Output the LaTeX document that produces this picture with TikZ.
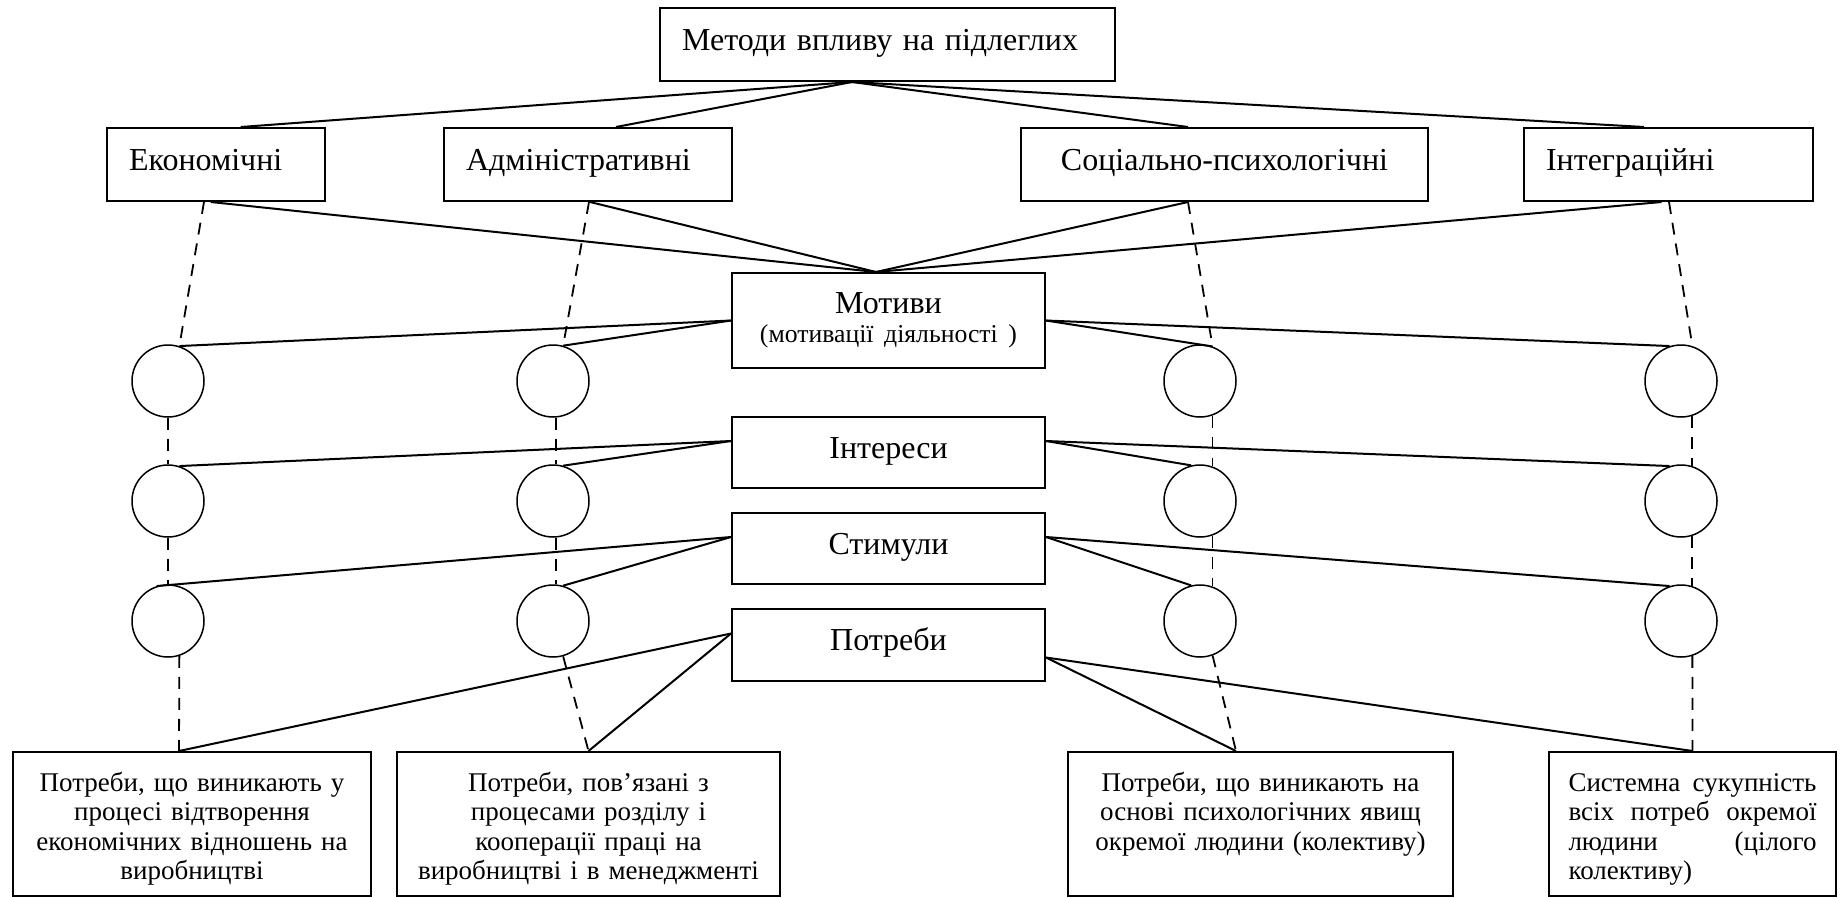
\documentclass[tikz,border=0pt]{standalone}
\usepackage{fontspec}
\setmainfont{Liberation Serif}
\begin{document}
\begin{tikzpicture}[x=1pt,y=-1pt,
  box/.style={draw, line width=2pt, inner sep=0pt, minimum height=73pt,
    font=\fontsize{32}{34}\selectfont, text height=22pt, text depth=10pt},
  leftbox/.style={box, align=left, inner xsep=22pt, text width=#1},
  btm/.style={draw, line width=2pt, inner sep=0pt, minimum height=144pt,
    font=\fontsize{27}{29.5}\selectfont, align=center, text height=20pt, text depth=86pt},
  circ/.style={circle, draw, line width=1.5pt, minimum size=72pt, inner sep=0pt},
  conn/.style={line width=2pt},
  dline/.style={line width=1.8pt, dash pattern=on 12pt off 9pt}]
\useasboundingbox (0,0) rectangle (1843,897);

% upper level: methods
\node[leftbox=411pt] (top) at (887.5,44.5) {Методи впливу на підлеглих};
\node[leftbox=173.5pt] (eco) at (215.75,164.5) {Економічні};
\node[leftbox=244pt] (adm) at (588,164.5) {Адміністративні};
\node[box, minimum width=407pt] (soc) at (1224.5,164.5) {Соціально-психологічні};
\node[leftbox=245pt] (integ) at (1668.5,164.5) {Інтеграційні};

% central column
\node[box, minimum width=313pt, minimum height=95pt, align=center, text width=300pt,
  text height=22pt, text depth=37pt]
  (mot) at (888.5,320.5) {Мотиви\\[-5pt]\mbox{\fontsize{25.7}{34}\selectfont(мотивації діяльності )}};
\node[box, minimum width=313pt, minimum height=71pt] (inte) at (888.5,452.5) {Інтереси};
\node[box, minimum width=313pt, minimum height=71pt] (stim) at (888.5,548.5) {Стимули};
\node[box, minimum width=313pt, minimum height=72pt] (potr) at (888.5,644.5) {Потреби};

% circles
\foreach \c/\x in {e/168, a/553, s/1200, i/1681}{
  \node[circ] (\c1) at (\x,381) {};
  \node[circ] (\c2) at (\x,501) {};
  \node[circ] (\c3) at (\x,621) {};
}

% bottom boxes
\node[btm, minimum width=358pt, text width=340pt] (b1) at (192,824)
  {Потреби, що виникають у\\процесі відтворення\\економічних відношень на\\виробництві};
\node[btm, minimum width=383pt, text width=365pt] (b2) at (588.5,824)
  {Потреби, пов’язані з\\процесами розділу і\\кооперації праці на\\виробництві і в менеджменті};
\node[btm, minimum width=385pt, text width=367pt] (b3) at (1260.5,824)
  {Потреби, що виникають на\\основі психологічних явищ\\окремої людини (колективу)};
\node[btm, align=left, inner xsep=19.5pt, text width=248pt] (b4) at (1692.5,824)
  {Системна\hfill сукупність\\всіх\hfill потреб\hfill окремої\\людини\hfill (цілого\\колективу)};

% top links
\coordinate (tj) at ([xshift=-35.5pt]top.south);
\draw[conn] (tj) -- ([xshift=25pt]eco.north);
\draw[conn] (tj) -- ([xshift=28pt]adm.north);
\draw[conn] (tj) -- ([xshift=-36.5pt]soc.north);
\draw[conn] (tj) -- ([xshift=-24.5pt]integ.north);

% methods to motives
\coordinate (mj) at ([xshift=-12.5pt]mot.north);
\draw[conn] ([xshift=-5pt]eco.south) -- (mj);
\draw[conn] ([xshift=2pt]adm.south) -- (mj);
\draw[conn] ([xshift=-36.5pt]soc.south) -- (mj);
\draw[conn] ([xshift=-7pt]integ.south) -- (mj);

% dashed columns
\draw[dline] ([xshift=-11.75pt]eco.south) -- (e1.72);
\draw[dline] (e1.south) -- (e2.north);
\draw[dline] (e2.south) -- (e3.north);
\draw[dline] (e3.-72) -- ([xshift=-13pt]b1.north);

\draw[dline] ([xshift=1pt]adm.south) -- (a1.74);
\draw[dline] ([xshift=3pt]a1.south) -- ([xshift=3pt]a2.north);
\draw[dline] ([xshift=3pt]a2.south) -- ([xshift=3pt]a3.north);
\draw[dline] (a3.-74) -- (b2.north);

\draw[dline] ([xshift=-36.5pt]soc.south) -- (s1.70);
\draw[dline] (s1.-70) -- (s2.70);
\draw[dline] (s2.-70) -- (s3.70);
\draw[dline] (s3.-70) -- ([xshift=-24.5pt]b3.north);

\draw[dline] ([xshift=0.5pt]integ.south) -- (i1.72);
\draw[dline] (i1.-72) -- (i2.72);
\draw[dline] (i2.-72) -- (i3.72);
\draw[dline] (i3.-72) -- (b4.north);

% motives
\draw[conn] (mot.west) -- (e1.72);
\draw[conn] (mot.west) -- (a1.74);
\draw[conn] (mot.east) -- (s1.70);
\draw[conn] (mot.east) -- (i1.108);

% interests
\draw[conn] ([yshift=11.5pt]inte.west) -- (e2.72);
\draw[conn] ([yshift=11.5pt]inte.west) -- (a2.74);
\draw[conn] ([yshift=11.5pt]inte.east) -- (s2.104);
\draw[conn] ([yshift=11.5pt]inte.east) -- (i2.108);

% stimuli
\draw[conn] ([yshift=11.5pt]stim.west) -- (e3.108);
\draw[conn] ([yshift=11.5pt]stim.west) -- (a3.74);
\draw[conn] ([yshift=11.5pt]stim.east) -- (s3.104);
\draw[conn] ([yshift=11.5pt]stim.east) -- (i3.108);

% needs
\draw[conn] ([yshift=11pt]potr.west) -- ([xshift=-13pt]b1.north);
\draw[conn] ([yshift=11pt]potr.west) -- (b2.north);
\draw[conn] ([yshift=-13pt]potr.east) -- ([xshift=-24.5pt]b3.north);
\draw[conn] ([yshift=-13pt]potr.east) -- (b4.north);
\end{tikzpicture}
\end{document}
